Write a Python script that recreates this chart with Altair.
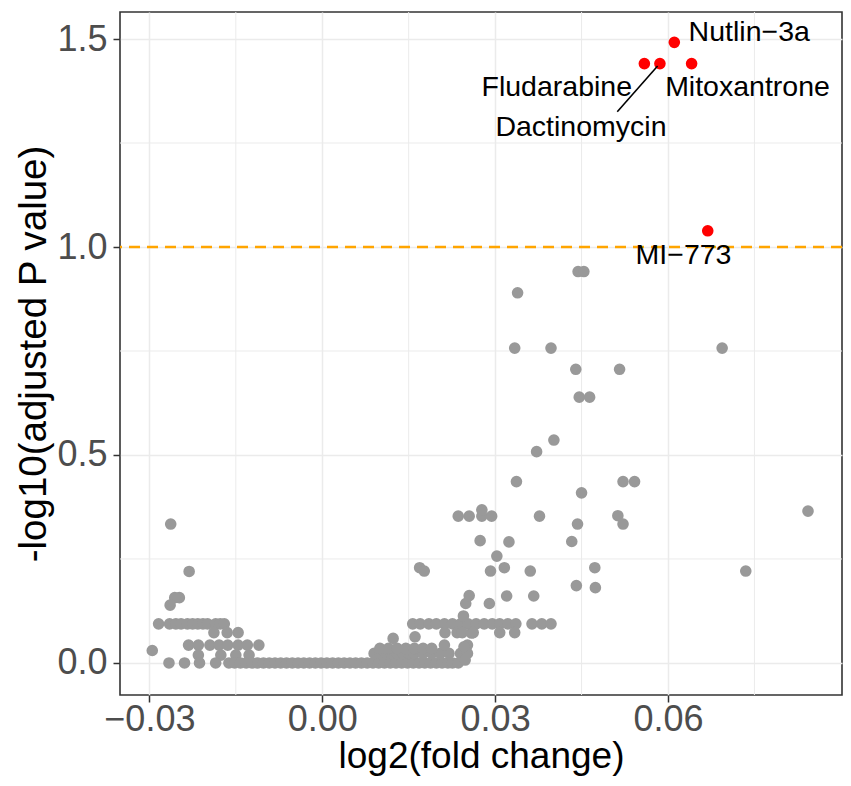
import altair as alt
import pandas as pd

# ---- data ----
gray_x = [
    -0.0263, -0.0231, -0.0248, -0.0256, -0.0264,
    -0.0284, -0.0265, -0.0254, -0.0245, -0.0234, -0.0225, -0.0216, -0.0207, -0.0199, -0.0185, -0.0177, -0.0170,
    -0.0188, -0.0165, -0.0146,
    -0.0232, -0.0215, -0.0195, -0.0179, -0.0164, -0.0146, -0.0130, -0.0110,
    -0.0295,
    -0.0215, -0.0176, -0.0150, -0.0127,
    -0.0266, -0.0239, -0.0213, -0.0185, -0.0162,
    -0.0152, -0.0142, -0.0132, -0.0122, -0.0112, -0.0102, -0.0092, -0.0082, -0.0072, -0.0062,
    -0.0052, -0.0042, -0.0032, -0.0022, -0.0012, -0.0002, 0.0008, 0.0018, 0.0028, 0.0038,
    0.0048, 0.0058, 0.0068, 0.0078, 0.0088, 0.0098, 0.0108, 0.0118, 0.0128, 0.0138,
    0.0148, 0.0158, 0.0168, 0.0178, 0.0188, 0.0198, 0.0208, 0.0218, 0.0226, 0.0236,
    0.0090, 0.0100, 0.0110, 0.0120, 0.0130, 0.0140, 0.0150, 0.0160, 0.0175, 0.0190, 0.0205, 0.0220, 0.0240, 0.0252,
    0.0100, 0.0115, 0.0130, 0.0145, 0.0160, 0.0175, 0.0190,
    0.0123, 0.0161, 0.0212, 0.0252, 0.0246, 0.0248,
    0.0157, 0.0170, 0.0185, 0.0198, 0.0212, 0.0226, 0.0240, 0.0253, 0.0267, 0.0281, 0.0295, 0.0308, 0.0322, 0.0336,
    0.0364, 0.0381, 0.0397,
    0.0213, 0.0234, 0.0243, 0.0259, 0.0262, 0.0308, 0.0334,
    0.0245, 0.0249, 0.0255, 0.0290, 0.0320, 0.0367, 0.0441,
    0.0169, 0.0177, 0.0292, 0.0316, 0.0361,
    0.0303,
    0.0274, 0.0324, 0.0433,
    0.0443,
    0.0236, 0.0255, 0.0277, 0.0294, 0.0277, 0.0377,
    0.0337, 0.0522, 0.0542, 0.0450,
    0.0372, 0.0402,
    0.0446, 0.0464,
    0.0440, 0.0516,
    0.0334, 0.0397, 0.0694,
    0.0339,
    0.0444, 0.0454,
    0.0513, 0.0522,
    0.0843,
    0.0473, 0.0735, 0.0474,
]
gray_y = [
    0.334, 0.220, 0.157, 0.157, 0.139,
    0.094, 0.094, 0.094, 0.094, 0.094, 0.094, 0.094, 0.094, 0.094, 0.094, 0.094, 0.094,
    0.073, 0.073, 0.073,
    0.043, 0.043, 0.043, 0.043, 0.043, 0.043, 0.043, 0.043,
    0.030,
    0.019, 0.019, 0.019, 0.019,
    0.0, 0.0, 0.0, 0.0, 0.0,
    0.0, 0.0, 0.0, 0.0, 0.0, 0.0, 0.0, 0.0, 0.0, 0.0,
    0.0, 0.0, 0.0, 0.0, 0.0, 0.0, 0.0, 0.0, 0.0, 0.0,
    0.0, 0.0, 0.0, 0.0, 0.0, 0.0, 0.0, 0.0, 0.0, 0.0,
    0.0, 0.0, 0.0, 0.0, 0.0, 0.0, 0.0, 0.0, 0.0, 0.0,
    0.023, 0.023, 0.023, 0.023, 0.023, 0.023, 0.023, 0.023, 0.023, 0.023, 0.023, 0.023, 0.023, 0.023,
    0.035, 0.035, 0.035, 0.035, 0.035, 0.035, 0.035,
    0.059, 0.063, 0.043, 0.043, 0.039, 0.007,
    0.094, 0.094, 0.094, 0.094, 0.094, 0.094, 0.094, 0.094, 0.094, 0.094, 0.094, 0.094, 0.094, 0.094,
    0.094, 0.094, 0.094,
    0.073, 0.073, 0.073, 0.072, 0.073, 0.073, 0.073,
    0.113, 0.143, 0.162, 0.143, 0.161, 0.161, 0.186,
    0.229, 0.221, 0.221, 0.229, 0.221,
    0.257,
    0.294, 0.291, 0.292,
    0.334,
    0.353, 0.353, 0.353, 0.353, 0.368, 0.353,
    0.436, 0.436, 0.436, 0.409,
    0.508, 0.536,
    0.639, 0.639,
    0.706, 0.706,
    0.757, 0.757, 0.757,
    0.890,
    0.941, 0.941,
    0.354, 0.334,
    0.365,
    0.229, 0.221, 0.181,
]

hit_names = ["Fludarabine", "Dactinomycin", "Nutlin\u22123a", "Mitoxantrone", "MI\u2212773"]
hit_x = [0.0559, 0.0586, 0.0611, 0.0641, 0.0669]
hit_y = [1.441, 1.441, 1.492, 1.441, 1.039]

# repelled label positions (data units)
label_x = [0.0407, 0.0449, 0.0741, 0.0738, 0.0627]
label_y = [1.385, 1.289, 1.5175, 1.385, 0.981]

# connector segment for Dactinomycin
seg_x = [0.0582]
seg_y = [1.435]
seg_x2 = [0.0512]
seg_y2 = [1.325]

threshold = [1.0]
x_ticks = [-0.03, 0.0, 0.03, 0.06]
y_ticks = [0.0, 0.5, 1.0, 1.5]
x_minor = [-0.015, 0.015, 0.045, 0.075]
y_minor = [0.25, 0.75, 1.25]

x_domain = [-0.0351, 0.0902]
y_domain = [-0.077, 1.565]

FONT = "Liberation Sans"

gray_df = pd.DataFrame({"x": gray_x, "y": gray_y})
hit_df = pd.DataFrame({"x": hit_x, "y": hit_y, "name": hit_names})
lab_df = pd.DataFrame({"x": label_x, "y": label_y, "name": hit_names})
seg_df = pd.DataFrame({"x": seg_x, "y": seg_y, "x2": seg_x2, "y2": seg_y2})
thr_df = pd.DataFrame({"y": threshold})
xm_df = pd.DataFrame({"x": x_minor})
ym_df = pd.DataFrame({"y": y_minor})

xs = alt.Scale(domain=x_domain, nice=False, zero=False)
ys = alt.Scale(domain=y_domain, nice=False, zero=False)

common_axis = dict(
    grid=True, gridColor="#EBEBEB", gridWidth=1.5, domain=False,
    tickColor="#333333", tickSize=7, tickWidth=1.5,
    labelFont=FONT, labelFontSize=36, labelColor="#4D4D4D",
    titleFont=FONT, titleColor="black", titleFontWeight="normal",
)

x_axis = alt.Axis(values=x_ticks, format=".2f", labelPadding=0, titlePadding=1,
                  title="log2(fold change)", titleFontSize=37, **common_axis)
y_axis = alt.Axis(values=y_ticks, format=".1f", labelPadding=6, titlePadding=3,
                  title="-log10(adjusted P value)", titleFontSize=38.5, **common_axis)

X = lambda f: alt.X(f, scale=xs, axis=x_axis)
Y = lambda f: alt.Y(f, scale=ys, axis=y_axis)

minor_x = alt.Chart(xm_df).mark_rule(color="#EBEBEB", strokeWidth=1).encode(x=X("x:Q"))
minor_y = alt.Chart(ym_df).mark_rule(color="#EBEBEB", strokeWidth=1).encode(y=Y("y:Q"))

gray = alt.Chart(gray_df).mark_circle(color="#999999", opacity=1, size=135).encode(
    x=X("x:Q"), y=Y("y:Q"))

hline = alt.Chart(thr_df).mark_rule(color="#FFA500", strokeWidth=2.5, strokeDash=[11, 7]).encode(
    y=Y("y:Q"))

red = alt.Chart(hit_df).mark_circle(color="#FF0000", opacity=1, size=135).encode(
    x=X("x:Q"), y=Y("y:Q"))

seg = alt.Chart(seg_df).mark_rule(color="black", strokeWidth=1.6).encode(
    x=X("x:Q"), y=Y("y:Q"), x2="x2:Q", y2="y2:Q")

labels = alt.Chart(lab_df).mark_text(font=FONT, fontSize=28.5, color="black",
                                     align="center", baseline="middle").encode(
    x=X("x:Q"), y=Y("y:Q"), text="name:N")

chart = alt.layer(minor_x, minor_y, gray, hline, red, seg, labels).properties(
    width=722, height=683,
    autosize=alt.AutoSizeParams(type="none"),
    padding={"left": 112, "top": 4, "right": 1, "bottom": 83},
).configure_view(stroke="#333333", strokeWidth=1.6)

chart.save("out.html", embed_options={"renderer": "svg", "actions": False})
